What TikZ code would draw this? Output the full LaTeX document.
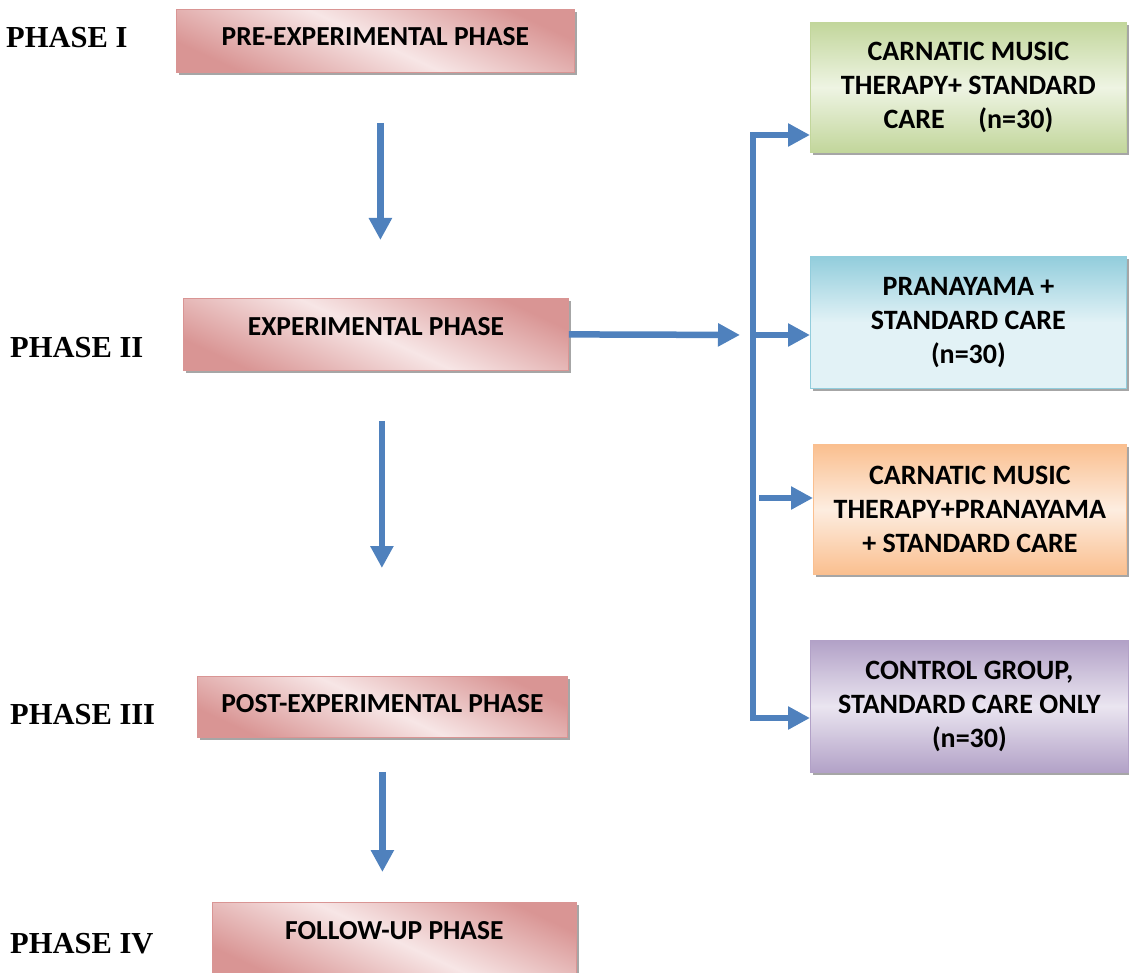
\documentclass[tikz,border=0pt]{standalone}
\usepackage{fontspec}
\setmainfont{Carlito}
\newfontfamily\phasefont{Liberation Serif}
\usetikzlibrary{arrows.meta,positioning,shadows}
\definecolor{flowblue}{HTML}{4F81BD}
\definecolor{pinkdark}{HTML}{D99594}
\definecolor{pinklight}{HTML}{F7E6E6}
\definecolor{greendark}{HTML}{C2D69B}
\definecolor{greenlight}{HTML}{EEF4E3}
\definecolor{bluedark}{HTML}{92CDDC}
\definecolor{bluelight}{HTML}{E2F2F6}
\definecolor{orangedark}{HTML}{FABF8F}
\definecolor{orangelight}{HTML}{FDEDE0}
\definecolor{purpledark}{HTML}{B2A1C7}
\definecolor{purplelight}{HTML}{EAE5F0}
\tikzset{stagebox/.style={draw=pinkdark,line width=0.8pt,top color=pinkdark,
  bottom color=pinkdark,middle color=pinklight,shading angle=-25,
  anchor=north west,inner sep=0pt,font=\bfseries\fontsize{27.5}{34}\selectfont,
  drop shadow={shadow xshift=3pt,shadow yshift=-3pt,fill=black,opacity=.35}},
  groupbox/.style={line width=0.8pt,anchor=north west,align=center,inner sep=0pt,
  minimum width=316pt,minimum height=130pt,shading angle=-35,
  font=\bfseries\fontsize{28}{34}\selectfont,
  drop shadow={shadow xshift=3pt,shadow yshift=-3pt,fill=black,opacity=.35}},
  phaselabel/.style={anchor=base west,inner sep=0pt,
  font=\phasefont\bfseries\fontsize{30.5}{34}\selectfont},
  flow/.style={-{Triangle[length=22pt,width=22pt]},line width=6.5pt,draw=flowblue}}
\begin{document}
\begin{tikzpicture}[x=1pt,y=-1pt]
\useasboundingbox (0,0) rectangle (1129,973);
% phases
\node[phaselabel] (ph1) at (6,48) {PHASE I};
\node[phaselabel] (ph2) at (10,357) {PHASE II};
\node[phaselabel] (ph3) at (10,724) {PHASE III};
\node[phaselabel] (ph4) at (10,953) {PHASE IV};
% stages
\node[stagebox,minimum width=398pt,text height=36pt,text depth=27pt] (pre) at (176,9) {PRE-EXPERIMENTAL PHASE};
\node[stagebox,minimum width=385pt,text height=37pt,text depth=35pt] (exp) at (183,298) {EXPERIMENTAL PHASE};
\node[stagebox,minimum width=370pt,text height=36pt,text depth=25pt] (post) at (197,676) {POST-EXPERIMENTAL PHASE};
\node[stagebox,minimum width=364pt,text height=37pt,text depth=38pt] (follow) at (212,902) {FOLLOW-UP PHASE};
% groups
\node[groupbox,draw=greendark,top color=greendark,bottom color=greendark,middle color=greenlight] (music) at (810,22)
  {CARNATIC MUSIC\\THERAPY+ STANDARD\\CARE\hspace{1.2em}(n=30)};
\node[groupbox,draw=bluedark,top color=bluedark,bottom color=bluelight,middle color=bluelight,minimum height=132pt] (prana) at (810,256)
  {PRANAYAMA +\\STANDARD CARE\\(n=30)};
\node[groupbox,draw=orangedark,top color=orangedark,bottom color=orangedark,middle color=orangelight,minimum width=313pt] (both) at (813,444)
  {CARNATIC MUSIC\\THERAPY+PRANAYAMA\\+ STANDARD CARE};
\node[groupbox,draw=purpledark,top color=purpledark,bottom color=purpledark,middle color=purplelight,minimum width=318pt,minimum height=132pt] (control) at (810,640)
  {CONTROL GROUP,\\STANDARD CARE ONLY\\(n=30)};
% connectors
\coordinate (bustop) at (753,135);
\coordinate (busmid) at (753,335);
\coordinate (busbot) at (753,718);
\coordinate (bothstart) at (759,498);
\draw[flow,shorten <=50pt,shorten >=58pt] ([xshift=5pt]pre.south) -- ([xshift=5pt]pre.south |- exp.north);
\draw[flow,shorten <=50pt,shorten >=108pt] ([xshift=6pt]exp.south) -- ([xshift=6pt]exp.south |- post.north);
\draw[flow,shorten <=34pt,shorten >=30pt] (post.south) -- (post.south |- follow.north);
\draw[flow,shorten >=13pt] (exp.east) -- (busmid);
\draw[flow] (busmid) -- (bustop) -- (bustop -| music.west);
\draw[flow] (busmid) -- (busbot) -- (busbot -| control.west);
\draw[flow] (busmid) -- (busmid -| prana.west);
\draw[flow] (bothstart) -- (bothstart -| both.west);
\end{tikzpicture}
\end{document}
